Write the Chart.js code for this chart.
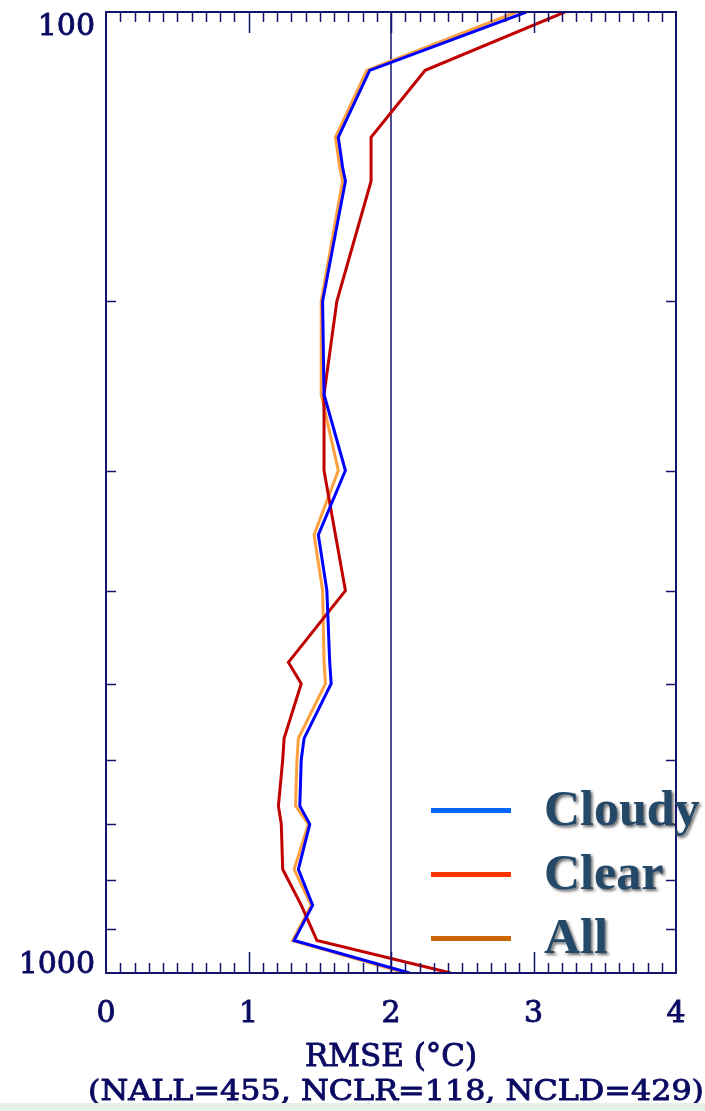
<!DOCTYPE html>
<html>
<head>
<meta charset="utf-8">
<title>RMSE profile</title>
<script src="https://cdn.jsdelivr.net/npm/chart.js@4/dist/chart.umd.min.js"></script>
<style>
  html, body { margin: 0; padding: 0; background: #ffffff; }
  #wrap { position: relative; width: 705px; height: 1111px; overflow: hidden; }
  #c { display: block; }
  #strip { position: absolute; left: 0; bottom: 0; width: 705px; height: 8px; background: #e6f0e6; }
</style>
</head>
<body>
<div id="wrap">
  <canvas id="c" width="705" height="1111"></canvas>
  <div id="strip"></div>
</div>
<script>
// Pressure levels (hPa) of the profile vertices
const pressureLevels = [100, 115, 135, 145, 150, 200, 250, 300, 350, 400, 475, 500, 570, 600, 670, 700, 780, 850, 925, 1000];

// Temperature RMSE (°C) per level
const rmseCloudy = [2.95, 1.85, 1.63, 1.66, 1.68, 1.52, 1.53, 1.68, 1.49, 1.55, 1.57, 1.58, 1.39, 1.37, 1.36, 1.43, 1.35, 1.45, 1.32, 2.13];
const rmseClear  = [3.22, 2.24, 1.86, 1.86, 1.86, 1.62, 1.53, 1.53, 1.61, 1.68, 1.28, 1.37, 1.25, 1.24, 1.21, 1.23, 1.24, 1.37, 1.48, 2.42];
const rmseAll    = [2.88, 1.83, 1.61, 1.64, 1.66, 1.51, 1.51, 1.63, 1.46, 1.52, 1.53, 1.54, 1.35, 1.34, 1.33, 1.42, 1.32, 1.44, 1.31, 2.10];

// Axis ticks and labels
const xTickValues = [0, 1, 2, 3, 4];
const yLabelValues = [100, 1000];
const yTickValues = [200, 300, 400, 500, 600, 700, 800, 900];
const referenceRmse = 2;

const legendLabels = ['Cloudy', 'Clear', 'All'];
const legendColors = ['#0066ff', '#ff3300', '#cc6600'];
const xTitle = 'RMSE (\u00B0C)';
const caption = '(NALL=455, NCLR=118, NCLD=429)';

const NAVY = '#14146e';
const TEXT_NAVY = '#0a0a62';

function toPoints(values) {
  return pressureLevels.map((p, i) => ({ x: values[i], y: p }));
}

// filled text with a thin outline of the same colour for a heavier stroke
function heavyText(ctx, s, x, y) {
  ctx.fillText(s, x, y);
  ctx.strokeText(s, x, y);
}

const frameAndLabels = {
  id: 'frameAndLabels',
  beforeDatasetsDraw(chart) {
    const { ctx, chartArea: a, scales: { x } } = chart;
    // reference line at RMSE = 2
    const xr = x.getPixelForValue(referenceRmse);
    ctx.save();
    ctx.strokeStyle = NAVY;
    ctx.lineWidth = 1.5;
    ctx.beginPath();
    ctx.moveTo(xr, a.top);
    ctx.lineTo(xr, a.bottom);
    ctx.stroke();
    ctx.restore();
  },
  afterDatasetsDraw(chart) {
    const { ctx, chartArea: a, scales: { x, y } } = chart;
    ctx.save();
    ctx.strokeStyle = NAVY;
    ctx.lineWidth = 2;
    ctx.strokeRect(a.left, a.top, a.right - a.left, a.bottom - a.top);

    // x ticks, inward on top and bottom; every 0.1 with longer ones at integers
    ctx.lineWidth = 1.5;
    ctx.beginPath();
    for (let k = 1; k < 40; k++) {
      const v = k / 10;
      const px = Math.round(x.getPixelForValue(v)) + 0.5;
      const len = (k % 10 === 0) ? 21 : 10;
      ctx.moveTo(px, a.bottom);
      ctx.lineTo(px, a.bottom - len);
      ctx.moveTo(px, a.top);
      ctx.lineTo(px, a.top + len);
    }
    // y ticks, inward on left and right
    yTickValues.forEach(v => {
      const py = Math.round(y.getPixelForValue(v)) + 0.5;
      ctx.moveTo(a.left, py);
      ctx.lineTo(a.left + 10, py);
      ctx.moveTo(a.right, py);
      ctx.lineTo(a.right - 10, py);
    });
    ctx.stroke();

    // tick labels
    ctx.fillStyle = TEXT_NAVY;
    ctx.strokeStyle = TEXT_NAVY;
    ctx.lineWidth = 0.9;
    ctx.font = '30px "DejaVu Serif"';
    ctx.textBaseline = 'alphabetic';
    ctx.textAlign = 'center';
    xTickValues.forEach(v => {
      heavyText(ctx, String(v), x.getPixelForValue(v), 1022);
    });
    ctx.textAlign = 'right';
    yLabelValues.forEach(v => {
      const py = y.getPixelForValue(v);
      const base = (v === y.min) ? py + 22.5 : py;
      heavyText(ctx, String(v), a.left - 11, base);
    });

    // axis title and sample counts
    const cx = (a.left + a.right) / 2;
    ctx.textAlign = 'center';
    ctx.font = '31px "DejaVu Serif"';
    heavyText(ctx, xTitle, cx, 1066);

    ctx.font = '28px "DejaVu Serif"';
    const w = ctx.measureText(caption).width;
    const sx = 616 / w;
    ctx.save();
    ctx.translate(396, 1100);
    ctx.scale(sx, 1);
    heavyText(ctx, caption, 0, 0);
    ctx.restore();

    // legend
    legendLabels.forEach((lab, i) => {
      const ly = 810.5 + i * 64;
      ctx.strokeStyle = legendColors[i];
      ctx.lineWidth = 5;
      ctx.beginPath();
      ctx.moveTo(431, ly);
      ctx.lineTo(511, ly);
      ctx.stroke();

      ctx.save();
      ctx.font = 'bold 50px "Liberation Serif"';
      ctx.textAlign = 'left';
      ctx.fillStyle = '#244868';
      ctx.shadowColor = 'rgba(0,0,0,0.6)';
      ctx.shadowOffsetX = 2;
      ctx.shadowOffsetY = 2;
      ctx.shadowBlur = 3;
      ctx.fillText(lab, 544, 825 + i * 64);
      ctx.restore();
    });
    ctx.restore();
  }
};

new Chart(document.getElementById('c'), {
  type: 'scatter',
  data: {
    datasets: [
      { label: 'Cloudy', data: toPoints(rmseCloudy), borderColor: '#0000ff', order: 1 },
      { label: 'Clear',  data: toPoints(rmseClear),  borderColor: '#c00000', order: 2 },
      { label: 'All',    data: toPoints(rmseAll),    borderColor: '#ffa040', order: 3 }
    ].map(d => Object.assign(d, {
      showLine: true, borderWidth: 3, pointRadius: 0, pointHoverRadius: 0, fill: false, tension: 0
    }))
  },
  options: {
    responsive: false,
    animation: false,
    events: [],
    layout: { autoPadding: false, padding: { top: 12, right: 29, left: 0, bottom: 0 } },
    plugins: { legend: { display: false }, tooltip: { enabled: false } },
    scales: {
      x: {
        type: 'linear', min: 0, max: 4,
        grid: { display: false }, border: { display: false },
        ticks: { display: false },
        afterFit(s) { s.height = 138; }
      },
      y: {
        type: 'logarithmic', reverse: true, min: 100, max: 1000,
        grid: { display: false }, border: { display: false },
        ticks: { display: false },
        afterFit(s) { s.width = 106; }
      }
    }
  },
  plugins: [frameAndLabels]
});
</script>
</body>
</html>
